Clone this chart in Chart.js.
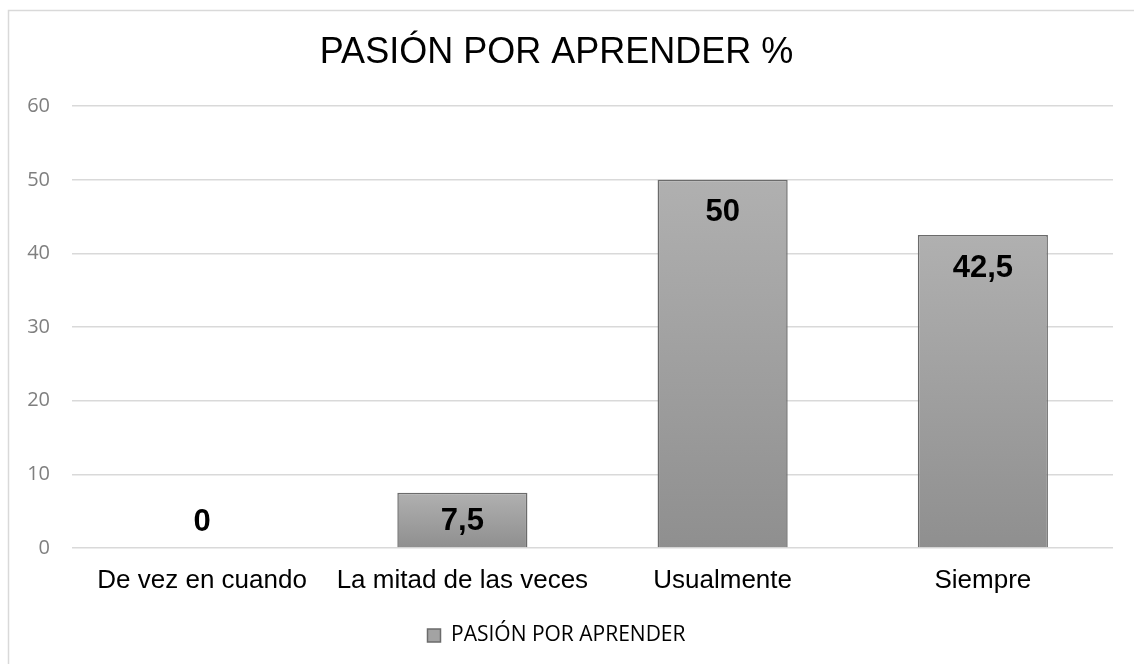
<!DOCTYPE html>
<html>
<head>
<meta charset="utf-8">
<script src="https://cdn.jsdelivr.net/npm/chart.js@4.4.1/dist/chart.umd.min.js"></script>
<style>
  body { margin: 0; background: #fff; }
  canvas { display: block; }
</style>
</head>
<body>
<canvas id="mycanvas" width="1134" height="664" style="width:1134px;height:664px"></canvas>
<script>
var categorias = ['De vez en cuando', 'La mitad de las veces', 'Usualmente', 'Siempre'];
var valores = [0, 7.5, 50, 42.5];
var serie = 'PASIÓN POR APRENDER';
var titulo = 'PASIÓN POR APRENDER %';
var yMin = 0, yMax = 60, yPaso = 10;

// marco gris del grafico
var marco = {
	id: 'marco',
	beforeDraw: function(chart) {
		var c = chart.ctx;
		c.save();
		c.fillStyle = '#fff';
		c.fillRect(0, 0, chart.width, chart.height);
		c.strokeStyle = '#d9d9d9';
		c.lineWidth = 1.5;
		c.strokeRect(8.5, 10.5, chart.width + 20, chart.height + 20);
		c.restore();
	}
};

// etiquetas de datos dentro de las barras
var etiquetas = {
	id: 'etiquetas',
	afterDatasetsDraw: function(chart) {
		var c = chart.ctx;
		var meta = chart.getDatasetMeta(0);
		c.save();
		c.font = 'bold 31px "Liberation Sans", Arial, sans-serif';
		c.fillStyle = '#000';
		c.textAlign = 'center';
		c.textBaseline = 'middle';
		meta.data.forEach(function(bar, i) {
			var y = Math.min(bar.y + 33, bar.base - 26);
			c.fillText(String(valores[i]).replace('.', ','), bar.x, y);
		});
		c.restore();
	}
};

var ctx = document.getElementById('mycanvas');

var barGraph = new Chart(ctx, {
	type: 'bar',
	data: {
		labels: categorias,
		datasets: [{
			label: serie,
			data: valores,
			backgroundColor: function(context) {
				var chart = context.chart;
				var ys = chart.scales.y;
				if (!ys || context.raw === undefined) return '#a0a0a0';
				var top = ys.getPixelForValue(context.raw);
				var bot = ys.getPixelForValue(0);
				if (bot - top < 1) return '#a0a0a0';
				var g = chart.ctx.createLinearGradient(0, top, 0, bot);
				g.addColorStop(0, '#b0b0b0');
				g.addColorStop(1, '#8f8f8f');
				return g;
			},
			borderColor: '#6b6b6b',
			borderWidth: function(context) { return context.raw === 0 ? 0 : 1.5; },
			borderSkipped: 'bottom',
			barPercentage: 0.5,
			categoryPercentage: 1
		}]
	},
	options: {
		responsive: false,
		animation: false,
		devicePixelRatio: 1,
		layout: { padding: { left: 0, right: 21, top: 0, bottom: 8 } },
		plugins: {
			title: {
				display: true,
				text: titulo,
				color: '#000',
				font: { family: '"Liberation Sans", Arial, sans-serif', size: 36, weight: 'normal', lineHeight: 1.2 },
				padding: { top: 31, bottom: 32 }
			},
			legend: {
				position: 'bottom',
				labels: {
					color: '#7f7f7f',
					font: { family: '"Open Sans", sans-serif', size: 21 },
					boxWidth: 13,
					boxHeight: 13,
					padding: 10,
					generateLabels: function(chart) {
						return [{
							text: serie,
							fillStyle: '#a3a3a3',
							strokeStyle: '#6b6b6b',
							lineWidth: 1.5,
							datasetIndex: 0
						}];
					}
				}
			},
			tooltip: { enabled: false }
		},
		scales: {
			x: {
				grid: { display: false, drawTicks: false, tickLength: 0 },
				border: { display: false },
				ticks: {
					color: '#000',
					font: { family: '"Liberation Sans", Arial, sans-serif', size: 26, lineHeight: 1.2 },
					padding: 17,
					maxRotation: 0,
					autoSkip: false
				},
				afterFit: function(scale) { scale.height = 67; }
			},
			y: {
				min: yMin,
				max: yMax,
				ticks: {
					stepSize: yPaso,
					color: '#7f7f7f',
					font: { family: '"Open Sans", sans-serif', size: 20 },
					padding: 22
				},
				grid: { color: '#d9d9d9', lineWidth: 1.5, drawTicks: false },
				border: { display: false },
				afterFit: function(scale) { scale.width = 72; }
			}
		}
	},
	plugins: [marco, etiquetas]
});
</script>
</body>
</html>
